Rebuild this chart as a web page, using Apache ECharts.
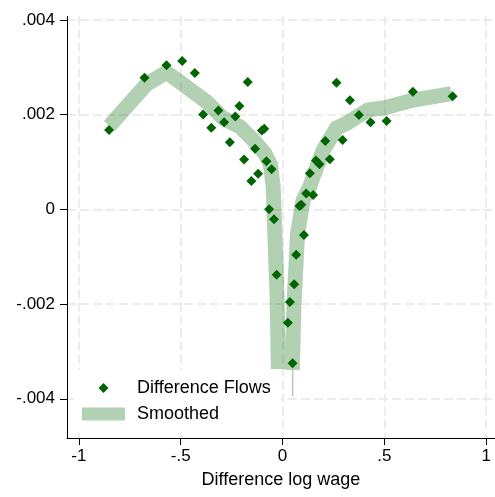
<!DOCTYPE html>
<html>
<head>
<meta charset="utf-8">
<script src="https://cdn.jsdelivr.net/npm/echarts@6/dist/echarts.min.js"></script>
<style>html,body{margin:0;padding:0;background:#fff}#c{width:495px;height:497px}</style>
</head>
<body>
<div id="c"></div>
<script>
// Difference Flows (scatter)
const flowX = [-0.852,-0.678,-0.570,-0.493,-0.431,-0.390,-0.350,-0.315,-0.287,-0.259,-0.232,-0.212,-0.189,-0.171,-0.153,-0.135,-0.120,-0.102,-0.090,-0.079,-0.066,-0.054,-0.042,-0.029,0.026,0.036,0.049,0.057,0.067,0.083,0.092,0.105,0.116,0.134,0.150,0.164,0.181,0.210,0.232,0.265,0.295,0.331,0.375,0.432,0.511,0.640,0.835];
const flowY = [0.001674,0.002778,0.003040,0.003130,0.002877,0.002001,0.001722,0.002086,0.001836,0.001416,0.001959,0.002180,0.001051,0.002687,0.000597,0.001277,0.000751,0.001663,0.001701,0.001013,0.000000,0.000846,-0.000211,-0.001380,-0.002394,-0.001957,-0.003251,-0.001583,-0.000958,0.000070,0.000097,-0.000542,0.000334,0.000760,0.000302,0.001030,0.000950,0.001442,0.001055,0.002672,0.001463,0.002301,0.001991,0.001836,0.001864,0.002482,0.002385];
// Smoothed (left and right branches, plus thin tail at the right branch's start)
const smoothLeftX = [-0.850,-0.668,-0.570,-0.373,-0.292,-0.210,-0.144,-0.087,-0.059,-0.046,-0.038,-0.0265,-0.0206];
const smoothLeftY = [0.001760,0.002639,0.002892,0.002271,0.001921,0.001744,0.001463,0.001182,0.000935,0.000477,-0.000507,-0.001915,-0.003371];
const smoothRightX = [0.048,0.0555,0.0737,0.101,0.134,0.150,0.1995,0.265,0.3145,0.419,0.503,0.642,0.829];
const smoothRightY = [-0.003392,-0.002056,-0.000507,0.000196,0.000477,0.000688,0.001252,0.001716,0.001815,0.002096,0.002145,0.002307,0.002444];
const smoothTailX = [0.0495,0.0495];
const smoothTailY = [-0.003392,-0.003950];
const xTicks = [-1,-0.5,0,0.5,1];
const yTicks = [-0.004,-0.002,0,0.002,0.004];

const fmt = v => v === 0 ? '0' : (v < 0 ? '-' : '') + String(Math.abs(v)).replace(/^0/, '');
const scatterData = flowX.map((x,i)=>[x, flowY[i]]);
const smoothData = smoothLeftX.map((x,i)=>[x, smoothLeftY[i]])
  .concat([[0.01, null]])
  .concat(smoothRightX.map((x,i)=>[x, smoothRightY[i]]));
const tailData = smoothTailX.map((x,i)=>[x, smoothTailY[i]]);

const FONT = 'Liberation Sans';
const SMOOTH = 'rgba(0,100,0,0.3)';
const diamondIcon = 'image://data:image/svg+xml;utf8,' + encodeURIComponent(
  '<svg xmlns="http://www.w3.org/2000/svg" width="43" height="13" viewBox="0 0 43 13"><path d="M21.5 1.5 L26.5 6.5 L21.5 11.5 L16.5 6.5 Z" fill="#006400"/></svg>');

const chart = echarts.init(document.getElementById('c'), null, {renderer:'canvas'});
chart.setOption({
  animation: false,
  backgroundColor: '#fff',
  grid: {left: 67, right: 0, top: 16.5, bottom: 59, containLabel: false},
  xAxis: {
    type: 'value', min: -1.0585, max: 1.0432,
    name: 'Difference log wage', nameLocation: 'middle', nameGap: 33,
    nameTextStyle: {fontFamily: FONT, fontSize: 18, color: '#000'},
    axisLine: {show: true, onZero: false, lineStyle: {color: '#000', width: 1}},
    axisTick: {show: true, length: 7, customValues: xTicks, lineStyle: {color: '#000'}},
    axisLabel: {customValues: xTicks, formatter: fmt, fontFamily: FONT, fontSize: 17, color: '#000', margin: 10},
    splitLine: {show: true, lineStyle: {color: '#e6e6e6', width: 1.5, type: [9,4]}}
  },
  yAxis: {
    type: 'value', min: -0.004828, max: 0.00407,
    axisLine: {show: true, onZero: false, lineStyle: {color: '#000', width: 1}},
    axisTick: {show: true, length: 7, customValues: yTicks, lineStyle: {color: '#000'}},
    axisLabel: {customValues: yTicks, formatter: fmt, fontFamily: FONT, fontSize: 17, color: '#000', margin: 12},
    splitLine: {show: true, lineStyle: {color: '#e6e6e6', width: 1.5, type: [9,4]}}
  },
  legend: {
    orient: 'vertical', left: 74, top: 370,
    backgroundColor: '#fff', padding: [8, 10, 8, 8],
    itemWidth: 43, itemHeight: 13, itemGap: 6,
    textStyle: {fontFamily: FONT, fontSize: 18, color: '#000', lineHeight: 20, padding: [0,0,0,7]},
    data: [
      {name: 'Difference Flows', icon: diamondIcon},
      {name: 'Smoothed', icon: 'rect', itemStyle: {color: SMOOTH}}
    ]
  },
  series: [
    {
      name: 'Smoothed', type: 'line', data: smoothData, showSymbol: false, symbol: 'none',
      connectNulls: false, color: SMOOTH,
      lineStyle: {color: SMOOTH, width: 15, cap: 'butt', join: 'miter'},
      z: 2
    },
    {
      name: 'Smoothed', type: 'line', data: tailData, showSymbol: false, symbol: 'none',
      color: SMOOTH, lineStyle: {color: SMOOTH, width: 1.5, cap: 'butt'},
      z: 2
    },
    {
      name: 'Difference Flows', type: 'scatter', data: scatterData,
      symbol: 'diamond', symbolSize: 10, itemStyle: {color: '#006400', opacity: 1}, z: 3
    }
  ]
});
</script>
</body>
</html>
